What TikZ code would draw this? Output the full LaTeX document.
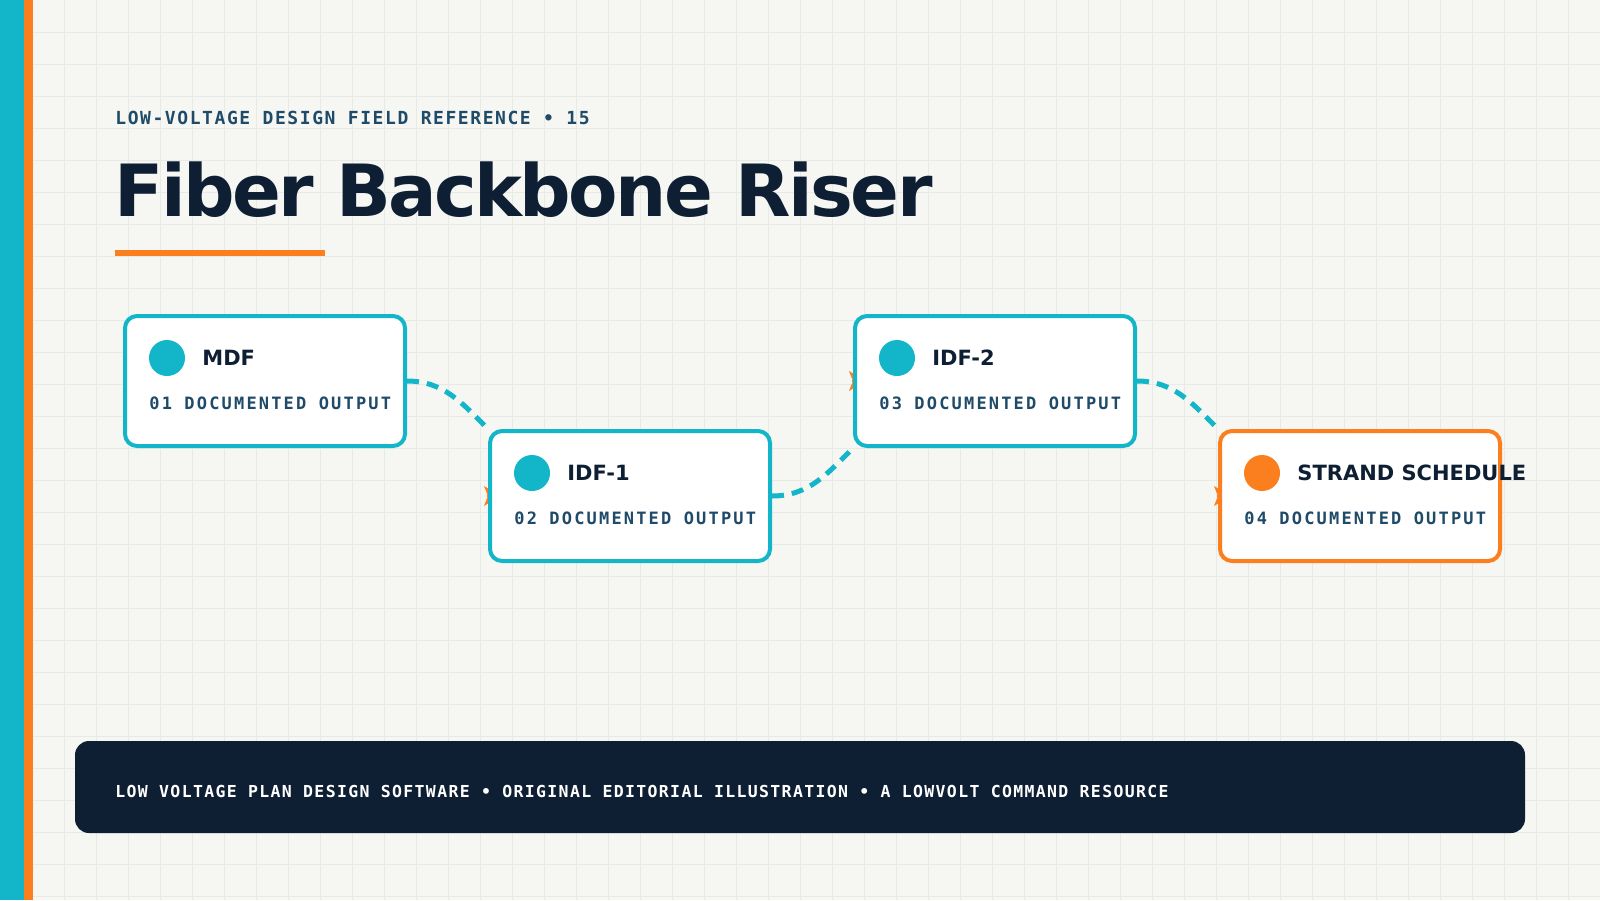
\documentclass[tikz,border=0pt]{standalone}
\usepackage{fontspec}
\setmainfont{DejaVu Sans}
\newfontfamily\titlefont{DejaVu Sans}[LetterSpace=-3.6]
\newfontfamily\kickerfont{DejaVu Sans Mono}[LetterSpace=8.7]
\newfontfamily\cardmono{DejaVu Sans Mono}[LetterSpace=12.8]
\newfontfamily\footfont{DejaVu Sans Mono}[LetterSpace=8.2]
\usetikzlibrary{arrows.meta}

\definecolor{paper}{HTML}{F6F7F3}
\definecolor{gridline}{HTML}{E8EBE5}
\definecolor{riser}{HTML}{12B6C8}
\definecolor{accent}{HTML}{FB7F1F}
\definecolor{navy}{HTML}{0E1E33}
\definecolor{slate}{HTML}{1F4B69}

\pgfdeclarelayer{bg}
\pgfdeclarelayer{links}
\pgfsetlayers{bg,links,main}

\tikzset{
  card/.style={draw=#1, fill=white, line width=2pt, rounded corners=6pt,
    minimum width=140pt, minimum height=65pt, inner sep=0pt},
  dot/.style={circle, fill=#1, minimum size=18pt, inner sep=0pt},
  cardname/.style={anchor=base west, inner sep=0pt, text=navy,
    font=\bfseries\fontsize{10.5pt}{12pt}\selectfont},
  cardsub/.style={anchor=base west, inner sep=0pt, text=slate,
    font=\cardmono\bfseries\fontsize{8.5pt}{10pt}\selectfont},
  link/.style={riser, line width=2.5pt, dash pattern=on 6pt off 4pt},
  port/.style={accent, line width=0.6pt, -{Stealth[length=8pt, width=10pt, inset=2pt]}}
}

\begin{document}
\begin{tikzpicture}[x=0.5pt, y=-0.5pt]
\useasboundingbox (0,0) rectangle (1600,900);

% Paper and grid
\begin{pgfonlayer}{bg}
\fill[paper] (0,0) rectangle (1600,900);
\foreach \gx in {32,64,...,1600} \draw[gridline, line width=0.5pt] (\gx,0) -- (\gx,900);
\foreach \gy in {32,64,...,896} \draw[gridline, line width=0.5pt] (0,\gy) -- (1600,\gy);
\fill[riser] (0,0) rectangle (24,900);
\fill[accent] (24,0) rectangle (33,900);
\end{pgfonlayer}

% Heading
\node[anchor=base west, inner sep=0pt, text=slate,
  font=\kickerfont\bfseries\fontsize{9pt}{11pt}\selectfont] (kicker) at (115,124)
  {LOW-VOLTAGE DESIGN FIELD REFERENCE • 15};
\node[anchor=base west, inner sep=0pt, text=navy,
  font=\titlefont\bfseries\fontsize{36pt}{40pt}\selectfont] (title) at (114,216)
  {Fiber Backbone Riser};
\fill[accent] (115,250) rectangle (325,256);

% Card 1 (MDF)
\node[card=riser] (mdf) at (265,381) {};
\node[dot=riser] (mdfdot) at ([shift={(44,44)}]mdf.north west) {};
\node[cardname] (mdfname) at ([shift={(79,51)}]mdf.north west) {MDF};
\node[cardsub] (mdfsub) at ([shift={(26,95)}]mdf.north west) {01 DOCUMENTED OUTPUT};

% Card 2 (IDF-1)
\node[card=riser] (idf1) at (630,496) {};
\node[dot=riser] (idf1dot) at ([shift={(44,44)}]idf1.north west) {};
\node[cardname] (idf1name) at ([shift={(79,51)}]idf1.north west) {IDF-1};
\node[cardsub] (idf1sub) at ([shift={(26,95)}]idf1.north west) {02 DOCUMENTED OUTPUT};

% Card 3 (IDF-2)
\node[card=riser] (idf2) at (995,381) {};
\node[dot=riser] (idf2dot) at ([shift={(44,44)}]idf2.north west) {};
\node[cardname] (idf2name) at ([shift={(79,51)}]idf2.north west) {IDF-2};
\node[cardsub] (idf2sub) at ([shift={(26,95)}]idf2.north west) {03 DOCUMENTED OUTPUT};

% Card 4 (strand schedule)
\node[card=accent] (strand) at (1360,496) {};
\node[dot=accent] (stranddot) at ([shift={(44,44)}]strand.north west) {};
\node[cardname] (strandname) at ([shift={(79,51)}]strand.north west) {STRAND SCHEDULE};
\node[cardsub] (strandsub) at ([shift={(26,95)}]strand.north west) {04 DOCUMENTED OUTPUT};

% Dashed risers, under the cards
\begin{pgfonlayer}{links}
\draw[link] (mdf.east) to[out=0, in=135] (idf1.north west);
\draw[link] (idf1.east) to[out=0, in=-135] (idf2.south west);
\draw[link] (idf2.east) to[out=0, in=135] (strand.north west);
\draw[port] ([xshift=-0.5pt]idf1.west) -- ([xshift=6pt]idf1.west);
\draw[port] ([xshift=-0.5pt]idf2.west) -- ([xshift=6pt]idf2.west);
\draw[port] ([xshift=-0.5pt]strand.west) -- ([xshift=6pt]strand.west);
\end{pgfonlayer}

% Footer band
\node[fill=navy, rounded corners=7pt, minimum width=725pt, minimum height=46pt,
  inner sep=0pt] (footer) at (800,787) {};
\node[anchor=base west, inner sep=0pt, text=white,
  font=\footfont\bfseries\fontsize{8.25pt}{10pt}\selectfont] (footertext) at (115,797)
  {LOW VOLTAGE PLAN DESIGN SOFTWARE • ORIGINAL EDITORIAL ILLUSTRATION • A LOWVOLT COMMAND RESOURCE};

\end{tikzpicture}
\end{document}
